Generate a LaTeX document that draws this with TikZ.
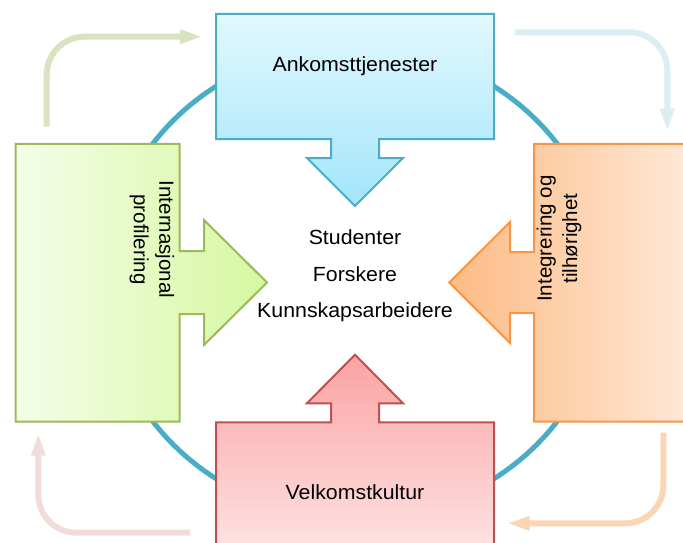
\documentclass[tikz,border=0pt]{standalone}
\usepackage{fontspec}
\setmainfont{Liberation Sans}
\newfontfamily\widesans[FakeStretch=1.04]{Liberation Sans}
\usetikzlibrary{arrows.meta}
\definecolor{ringcol}{HTML}{4BACC6}
\definecolor{bluebd}{HTML}{4BACC6}
\definecolor{greenbd}{HTML}{9BBB59}
\definecolor{orangebd}{HTML}{F79646}
\definecolor{redbd}{HTML}{C0504D}
\definecolor{bluetop}{HTML}{E2F8FE}
\definecolor{bluebot}{HTML}{A2E5FA}
\definecolor{greenl}{HTML}{F5FDE8}
\definecolor{greenr}{HTML}{D6F8A0}
\definecolor{orangel}{HTML}{FDBB84}
\definecolor{oranger}{HTML}{FEEADB}
\definecolor{redtop}{HTML}{FBA3A3}
\definecolor{redbot}{HTML}{FEE6E6}
\definecolor{cycgreen}{HTML}{D7E4BD}
\definecolor{cycblue}{HTML}{DAEEF3}
\definecolor{cycorange}{HTML}{FCD5B5}
\definecolor{cycred}{HTML}{F2DCDB}
\begin{document}
\begin{tikzpicture}[x=1pt,y=-1pt,
  shapebd/.style={line width=2pt, line join=miter},
  cyc/.style={line width=6pt, rounded corners=38pt,
    -{Triangle[length=23pt,width=13pt]}},
  lbl/.style={font=\fontsize{20.5}{25.5}\selectfont, text=black, inner sep=0pt, align=center},
  hlbl/.style={lbl, font=\widesans\fontsize{20.5}{25.5}\selectfont, anchor=base}]
\useasboundingbox (0,0) rectangle (683,542);
\clip (0,0) rectangle (683,542);
% ring
\draw[ringcol, line width=5pt] (355,282.5) ellipse [x radius=250, y radius=236];
% cycle arrows
\coordinate (g1) at (46.7,126.7); \coordinate (g2) at (46.7,36.7); \coordinate (g3) at (203,36.7);
\draw[cyc, cycgreen] (g1) -- (g2) -- (g3);
\coordinate (b1) at (515,32.3); \coordinate (b2) at (667.3,32.3); \coordinate (b3) at (667.3,131.7);
\draw[cyc, cycblue] (b1) -- (b2) -- (b3);
\coordinate (o1) at (663.3,432.7); \coordinate (o2) at (663.3,523.3); \coordinate (o3) at (506.7,523.3);
\draw[cyc, cycorange] (o1) -- (o2) -- (o3);
\coordinate (r1) at (190,532.7); \coordinate (r2) at (38.3,532.7); \coordinate (r3) at (38.3,432.7);
\draw[cyc, cycred] (r1) -- (r2) -- (r3);
% top shape (blue)
\draw[shapebd, draw=bluebd, top color=bluetop, bottom color=bluebot]
  (216,13.8) -- (494,13.8) -- (494,139) -- (379,139) -- (379,158) -- (403,158)
  -- (355,206) -- (307,158) -- (331,158) -- (331,139) -- (216,139) -- cycle;
% left shape (green)
\draw[shapebd, draw=greenbd, left color=greenl, right color=greenr]
  (15.7,143.8) -- (179.5,143.8) -- (179.5,251) -- (204,251) -- (204,220)
  -- (267,282.5) -- (204,345) -- (204,314) -- (179.5,314) -- (179.5,421.7)
  -- (15.7,421.7) -- cycle;
% right shape (orange)
\draw[shapebd, draw=orangebd, left color=orangel, right color=oranger]
  (534,143.8) -- (700,143.8) -- (700,421.7) -- (534,421.7) -- (534,313)
  -- (510,313) -- (510,343) -- (449.3,282.5) -- (510,222) -- (510,252)
  -- (534,252) -- cycle;
% bottom shape (red)
\draw[shapebd, draw=redbd, top color=redtop, bottom color=redbot]
  (216,422.4) -- (331,422.4) -- (331,403.3) -- (307,403.3) -- (355,354.7)
  -- (403,403.3) -- (379,403.3) -- (379,422.4) -- (494,422.4) -- (494,560)
  -- (216,560) -- cycle;
% labels
\node[hlbl] (ank) at (355,71) {Ankomsttjenester};
\node[hlbl] (vel) at (355,499.5) {Velkomstkultur};
\node[hlbl] (stu) at (355,244) {Studenter};
\node[hlbl] (for) at (355,281) {Forskere};
\node[hlbl] (kun) at (355,317.7) {Kunnskapsarbeidere};
\node[lbl, rotate=-90] (int) at (152,239.5) {Internasjonal\\profilering};
\node[lbl, rotate=90] (itg) at (559,238.5) {Integrering og\\tilhørighet};
\end{tikzpicture}
\end{document}
